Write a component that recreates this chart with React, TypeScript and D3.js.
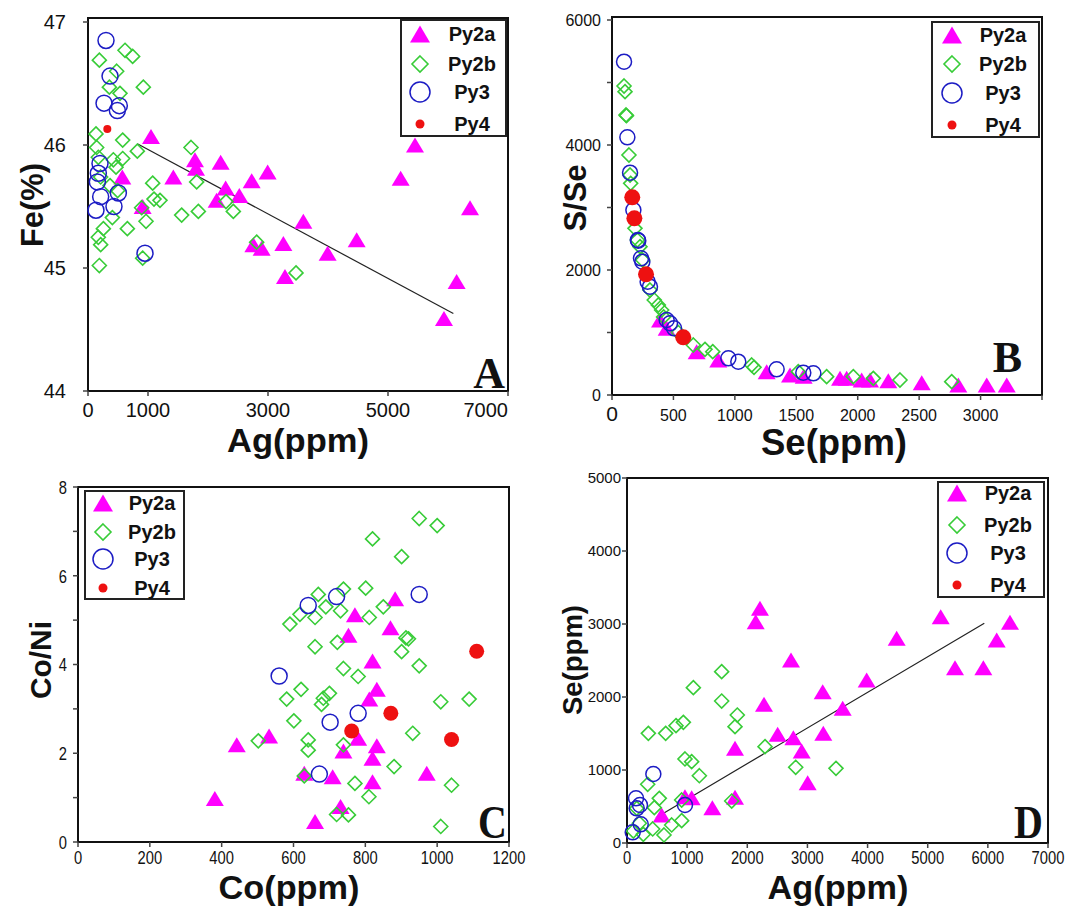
import React from "react";
import * as d3 from "d3";

type Pt = [number, number];

const MAGENTA = "#ff00ff";
const GREEN = "#38cc38";
const BLUE = "#1c1cc4";
const RED = "#ee1111";

const SERIES = ["Py2a", "Py2b", "Py3", "Py4"];

// ---------------- Panel A : Ag(ppm) vs Fe(%) ----------------
const A_xTicks = [0, 1000, 3000, 5000, 7000];
const A_yTicks = [44, 45, 46, 47];
const A_py2a: Pt[] = [
  [1050, 46.07], [572, 45.74], [911, 45.5], [1422, 45.74], [1783, 45.88], [1800, 45.81],
  [2211, 45.86], [2728, 45.71], [2994, 45.78], [2294, 45.65], [2144, 45.55], [2522, 45.59],
  [2756, 45.19], [2894, 45.16], [3256, 45.2], [3283, 44.93], [5450, 46.0], [5211, 45.73],
  [6367, 45.49], [3589, 45.38], [4478, 45.23], [3994, 45.12], [6144, 44.89], [5933, 44.59],
];
const A_py2b: Pt[] = [
  [617, 46.77], [744, 46.72], [189, 46.69], [478, 46.6], [356, 46.47], [922, 46.47],
  [533, 46.42], [133, 46.09], [144, 45.98], [578, 46.04], [422, 45.88], [578, 45.89],
  [822, 45.95], [1717, 45.98], [211, 45.74], [367, 45.67], [1078, 45.69], [494, 45.63],
  [1200, 45.55], [1100, 45.56], [1811, 45.7], [894, 45.49], [1561, 45.43], [1839, 45.46],
  [2300, 45.54], [2422, 45.46], [967, 45.38], [406, 45.41], [656, 45.32], [256, 45.32],
  [172, 45.25], [211, 45.19], [2811, 45.21], [911, 45.08], [189, 45.02], [3467, 44.96],
  [172, 45.9], [467, 45.82],
];
const A_py3: Pt[] = [
  [300, 46.85], [367, 46.56], [267, 46.34], [522, 46.32], [489, 46.28], [200, 45.85],
  [172, 45.77], [156, 45.7], [211, 45.58], [506, 45.61], [433, 45.5], [133, 45.47], [950, 45.12],
];
const A_py4: Pt[] = [[322, 46.13]];
const A_trend: Pt[] = [[822, 46.01], [6089, 44.63]];

// ---------------- Panel B : Se(ppm) vs S/Se ----------------
const B_xTicks = [0, 500, 1000, 1500, 2000, 2500, 3000, 3500];
const B_xLabels = [0, 500, 1000, 1500, 2000, 2500, 3000];
const B_yTicks = [0, 1000, 2000, 3000, 4000, 5000, 6000];
const B_yLabels = [0, 2000, 4000, 6000];
const B_py2a: Pt[] = [
  [391, 1200], [445, 1067], [689, 693], [865, 560], [1259, 373], [1449, 320], [1560, 300],
  [1856, 267], [1910, 267], [2032, 240], [2100, 240], [2249, 229], [2521, 197], [2819, 160],
  [3050, 160], [3213, 160],
];
const B_py2b: Pt[] = [
  [98, 4944], [106, 4853], [114, 4480], [118, 4470], [138, 3840], [147, 3520], [152, 3387],
  [187, 2667], [206, 2480], [228, 2373], [250, 2160], [309, 1680], [344, 1520], [377, 1440],
  [404, 1360], [420, 1250], [540, 1000], [662, 800], [757, 731], [820, 693], [1137, 480],
  [1156, 443], [1516, 373], [1747, 293], [1964, 293], [2127, 267], [2344, 240], [2765, 213],
];
const B_py3: Pt[] = [
  [98, 5333], [125, 4123], [147, 3557], [174, 2960], [210, 2480], [214, 2469], [236, 2187],
  [247, 2133], [290, 1813], [309, 1733], [445, 1200], [472, 1147], [505, 1067], [947, 587],
  [1028, 533], [1340, 411], [1557, 357], [1639, 347],
];
const B_py4: Pt[] = [[165, 3163], [182, 2827], [277, 1931], [580, 923]];

// ---------------- Panel C : Co(ppm) vs Co/Ni ----------------
const C_xTicks = [0, 200, 400, 600, 800, 1000, 1200];
const C_yTicks = [0, 1, 2, 3, 4, 5, 6, 7, 8];
const C_yLabels = [0, 2, 4, 6, 8];
const C_py2a: Pt[] = [
  [381, 0.98], [442, 2.19], [532, 2.39], [630, 1.55], [883, 5.48], [771, 5.12], [870, 4.83],
  [753, 4.66], [820, 4.08], [832, 3.44], [811, 3.22], [780, 2.34], [739, 2.05], [832, 2.17],
  [820, 1.89], [971, 1.55], [709, 1.47], [820, 1.36], [731, 0.8], [660, 0.46],
];
const C_py2b: Pt[] = [
  [502, 2.28], [590, 4.91], [618, 5.13], [581, 3.22], [621, 3.44], [601, 2.73], [630, 1.49],
  [950, 7.29], [1000, 7.13], [820, 6.83], [901, 6.43], [669, 5.58], [739, 5.7], [801, 5.72],
  [690, 5.3], [731, 5.21], [660, 5.06], [811, 5.06], [850, 5.3], [660, 4.4], [722, 4.5],
  [913, 4.6], [920, 4.58], [901, 4.29], [950, 3.97], [739, 3.91], [780, 3.73], [683, 3.24],
  [700, 3.35], [678, 3.1], [1010, 3.16], [1089, 3.22], [932, 2.45], [641, 2.3], [641, 2.07],
  [739, 2.19], [880, 1.7], [771, 1.32], [1040, 1.28], [810, 1.02], [720, 0.62], [753, 0.61],
  [1010, 0.35],
];
const C_py3: Pt[] = [
  [560, 3.74], [641, 5.33], [720, 5.53], [950, 5.58], [780, 2.9], [702, 2.7], [672, 1.53],
];
const C_py4: Pt[] = [[1110, 4.3], [871, 2.9], [762, 2.5], [1040, 2.31]];

// ---------------- Panel D : Ag(ppm) vs Se(ppm) ----------------
const D_xTicks = [0, 1000, 2000, 3000, 4000, 5000, 6000, 7000];
const D_yTicks = [0, 1000, 2000, 3000, 4000, 5000];
const D_py2a: Pt[] = [
  [2211, 3215], [2140, 3032], [2727, 2507], [3254, 2073], [2278, 1900], [2505, 1489],
  [2766, 1443], [3264, 1502], [2905, 1260], [3004, 826], [1796, 1297], [1796, 626],
  [964, 635], [1075, 621], [1419, 484], [577, 384], [5216, 3100], [6368, 3023], [6147, 2781],
  [4484, 2804], [5454, 2402], [5925, 2402], [3985, 2233], [3586, 1845],
];
const D_py2b: Pt[] = [
  [3475, 1023], [1574, 2347], [1103, 2128], [1574, 1945], [1834, 1753], [1796, 1594],
  [355, 1502], [643, 1502], [815, 1607], [937, 1653], [2295, 1320], [2805, 1037], [964, 1151],
  [1075, 1114], [1203, 922], [344, 804], [537, 612], [909, 589], [1741, 575], [454, 484],
  [909, 306], [743, 247], [615, 110], [427, 192], [271, 119], [205, 270], [161, 475], [105, 164],
];
const D_py3: Pt[] = [
  [438, 945], [150, 612], [216, 521], [161, 475], [964, 521], [228, 256], [95, 146],
];
const D_py4: Pt[] = [];
const D_trend: Pt[] = [[482, 347], [5941, 3010]];

const SANS = "'Liberation Sans', Arial, Helvetica, sans-serif";
const SERIF = "'Liberation Serif', 'Times New Roman', serif";

function Tri({ x, y, w, h }: { x: number; y: number; w: number; h: number }) {
  return <path d={`M${x},${y - h / 2}L${x + w / 2},${y + h / 2}L${x - w / 2},${y + h / 2}Z`} fill={MAGENTA} />;
}
function Dia({ x, y, r }: { x: number; y: number; r: number }) {
  return (
    <path d={`M${x},${y - r}L${x + r},${y}L${x},${y + r}L${x - r},${y}Z`} fill="none" stroke={GREEN} strokeWidth={1.6} />
  );
}

interface TitleSpec { text: string; x: number; y: number; size: number; len: number; }

interface PanelProps {
  letter: string; letterX: number; letterY: number; letterSize: number; letterStretch?: number;
  left: number; right: number; top: number; bottom: number; frameTop: number;
  xDomain: [number, number]; yDomain: [number, number];
  xTicks: number[]; xLabels: number[]; yTicks: number[]; yLabels: number[];
  xLabelY: number; xLabelSize: (v: number) => number; xCharW?: number; lastLabelEnd?: boolean;
  yLabelX: number; yLabelSize: number; yCharW?: number;
  py2a: Pt[]; py2b: Pt[]; py3: Pt[]; py4: Pt[]; redR: number; circR: number;
  trend?: Pt[];
  legend: { x: number; y: number; w: number; h: number; rows: number[]; symDx: number; textDx: number };
  xTitle: TitleSpec; yTitle: TitleSpec;
}

function Panel(p: PanelProps) {
  const x = d3.scaleLinear().domain(p.xDomain).range([p.left, p.right]);
  const y = d3.scaleLinear().domain(p.yDomain).range([p.bottom, p.top]);
  const lineGen = d3.line<Pt>().x((d) => x(d[0])).y((d) => y(d[1]));
  const lg = p.legend;
  const ls = p.letterStretch ?? 1;
  return (
    <g>
      <rect x={p.left} y={p.frameTop} width={p.right - p.left} height={p.bottom - p.frameTop} fill="#fff" stroke="#111" strokeWidth={2} />
      {p.yTicks.map((t) => (
        <line key={"yt" + t} x1={p.left - 5} x2={p.left} y1={y(t)} y2={y(t)} stroke="#444" strokeWidth={1.5} />
      ))}
      {p.xTicks.map((t) => (
        <line key={"xt" + t} x1={x(t)} x2={x(t)} y1={p.bottom} y2={p.bottom + 5} stroke="#444" strokeWidth={1.5} />
      ))}
      {p.yLabels.map((t) => {
        const s = String(t);
        const extra = p.yCharW ? { textLength: s.length * p.yCharW, lengthAdjust: "spacingAndGlyphs" } : {};
        return (
          <text key={"yl" + t} x={p.yLabelX} y={y(t)} dy="0.36em" textAnchor="end" fontFamily={SANS} fontSize={p.yLabelSize} fill="#111" {...extra}>
            {s}
          </text>
        );
      })}
      {p.xLabels.map((t, i) => {
        const s = String(t);
        const extra = p.xCharW ? { textLength: s.length * p.xCharW, lengthAdjust: "spacingAndGlyphs" } : {};
        return (
          <text
            key={"xl" + t}
            x={x(t)}
            y={p.xLabelY}
            textAnchor={p.lastLabelEnd && i === p.xLabels.length - 1 ? "end" : "middle"}
            fontFamily={SANS}
            fontSize={p.xLabelSize(t)}
            fill="#111"
            {...extra}
          >
            {s}
          </text>
        );
      })}
      {p.trend && <path d={lineGen(p.trend) || ""} fill="none" stroke="#222" strokeWidth={1.2} />}
      {p.py2a.map((d, i) => <Tri key={"a" + i} x={x(d[0])} y={y(d[1])} w={18} h={15} />)}
      {p.py2b.map((d, i) => <Dia key={"b" + i} x={x(d[0])} y={y(d[1])} r={7} />)}
      {p.py3.map((d, i) => (
        <circle key={"c" + i} cx={x(d[0])} cy={y(d[1])} r={p.circR} fill="none" stroke={BLUE} strokeWidth={1.5} />
      ))}
      {p.py4.map((d, i) => <circle key={"d" + i} cx={x(d[0])} cy={y(d[1])} r={p.redR} fill={RED} />)}
      <rect x={lg.x} y={lg.y} width={lg.w} height={lg.h} fill="#fff" stroke="#222" strokeWidth={2} />
      {SERIES.map((s, i) => {
        const cy = lg.y + lg.rows[i];
        const sx = lg.x + lg.symDx;
        return (
          <g key={s}>
            {i === 0 && <Tri x={sx} y={cy} w={20} h={17} />}
            {i === 1 && <Dia x={sx} y={cy} r={8} />}
            {i === 2 && <circle cx={sx} cy={cy} r={10} fill="none" stroke={BLUE} strokeWidth={1.5} />}
            {i === 3 && <circle cx={sx} cy={cy} r={4.5} fill={RED} />}
            <text x={lg.x + lg.textDx} y={cy} dy="0.36em" textAnchor="middle" fontFamily={SANS} fontWeight="bold" fontSize={20} fill="#111">
              {s}
            </text>
          </g>
        );
      })}
      <text
        transform={`translate(${p.letterX},${p.letterY}) scale(1,${ls})`}
        textAnchor="end"
        fontFamily={SERIF}
        fontWeight="bold"
        fontSize={p.letterSize}
        fill="#111"
      >
        {p.letter}
      </text>
      <text
        x={p.xTitle.x}
        y={p.xTitle.y}
        textAnchor="middle"
        fontFamily={SANS}
        fontWeight="bold"
        fontSize={p.xTitle.size}
        textLength={p.xTitle.len}
        lengthAdjust="spacingAndGlyphs"
        fill="#111"
      >
        {p.xTitle.text}
      </text>
      <text
        transform={`translate(${p.yTitle.x},${p.yTitle.y}) rotate(-90)`}
        textAnchor="middle"
        dy="0.36em"
        fontFamily={SANS}
        fontWeight="bold"
        fontSize={p.yTitle.size}
        textLength={p.yTitle.len}
        lengthAdjust="spacingAndGlyphs"
        fill="#111"
      >
        {p.yTitle.text}
      </text>
    </g>
  );
}

export default function App() {
  return (
    <svg width={1077} height={907} style={{ position: "absolute", left: 0, top: 0, background: "#fff" }}>
      <rect width={1077} height={907} fill="#fff" />
      <Panel
        letter="A" letterX={505} letterY={388} letterSize={44}
        left={88} right={508} top={22} bottom={391} frameTop={18}
        xDomain={[0, 7000]} yDomain={[44, 47]}
        xTicks={A_xTicks} xLabels={A_xTicks} yTicks={A_yTicks} yLabels={A_yTicks}
        xLabelY={417} xLabelSize={() => 20} lastLabelEnd
        yLabelX={66} yLabelSize={20}
        py2a={A_py2a} py2b={A_py2b} py3={A_py3} py4={A_py4} redR={4} circR={8}
        trend={A_trend}
        legend={{ x: 401, y: 20, w: 105, h: 116, rows: [14, 44, 72, 104], symDx: 19, textDx: 71 }}
        xTitle={{ text: "Ag(ppm)", x: 298, y: 452, size: 34, len: 142 }}
        yTitle={{ text: "Fe(%)", x: 32, y: 205, size: 31, len: 84 }}
      />
      <Panel
        letter="B" letterX={1022} letterY={372} letterSize={44}
        left={612} right={1042} top={20} bottom={395} frameTop={17}
        xDomain={[0, 3500]} yDomain={[0, 6000]}
        xTicks={B_xTicks} xLabels={B_xLabels} yTicks={B_yTicks} yLabels={B_yLabels}
        xLabelY={421} xLabelSize={(v) => (v === 0 ? 21 : 16)}
        yLabelX={601} yLabelSize={16}
        py2a={B_py2a} py2b={B_py2b} py3={B_py3} py4={B_py4} redR={8} circR={7.5}
        legend={{ x: 932, y: 22, w: 107, h: 115, rows: [13, 42, 71, 103], symDx: 20, textDx: 71 }}
        xTitle={{ text: "Se(ppm)", x: 834, y: 455, size: 36, len: 146 }}
        yTitle={{ text: "S/Se", x: 575, y: 198, size: 31, len: 67 }}
      />
      <Panel
        letter="C" letterX={507} letterY={838} letterSize={40} letterStretch={1.15}
        left={78} right={509} top={487} bottom={842} frameTop={487}
        xDomain={[0, 1200]} yDomain={[0, 8]}
        xTicks={C_xTicks} xLabels={C_xTicks} yTicks={C_yTicks} yLabels={C_yLabels}
        xLabelY={864} xLabelSize={() => 18} xCharW={8.2}
        yLabelX={67} yLabelSize={19} yCharW={8.2}
        py2a={C_py2a} py2b={C_py2b} py3={C_py3} py4={C_py4} redR={7.5} circR={8}
        legend={{ x: 85, y: 491, w: 99, h: 108, rows: [12, 41, 68, 97], symDx: 18, textDx: 67 }}
        xTitle={{ text: "Co(ppm)", x: 289, y: 899, size: 33, len: 141 }}
        yTitle={{ text: "Co/Ni", x: 40, y: 660, size: 30, len: 78 }}
      />
      <Panel
        letter="D" letterX={1043} letterY={838} letterSize={40} letterStretch={1.15}
        left={627} right={1048} top={478} bottom={843} frameTop={478}
        xDomain={[0, 7000]} yDomain={[0, 5000]}
        xTicks={D_xTicks} xLabels={D_xTicks} yTicks={D_yTicks} yLabels={D_yTicks}
        xLabelY={864} xLabelSize={() => 18} xCharW={8.2}
        yLabelX={621} yLabelSize={15}
        py2a={D_py2a} py2b={D_py2b} py3={D_py3} py4={D_py4} redR={7.5} circR={7.5}
        trend={D_trend}
        legend={{ x: 938, y: 482, w: 106, h: 115, rows: [11, 43, 71, 103], symDx: 19, textDx: 70 }}
        xTitle={{ text: "Ag(ppm)", x: 838, y: 899, size: 33, len: 141 }}
        yTitle={{ text: "Se(ppm)", x: 572, y: 660, size: 28, len: 110 }}
      />
    </svg>
  );
}
